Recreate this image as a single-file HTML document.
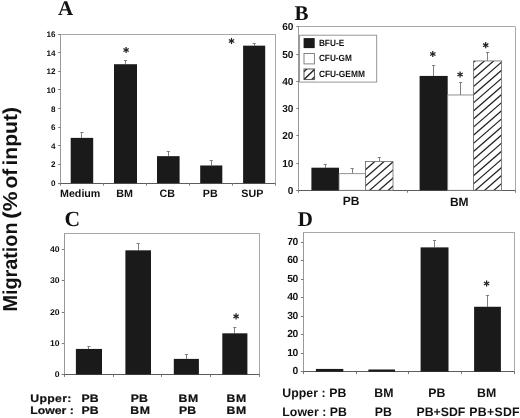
<!DOCTYPE html>
<html><head><meta charset="utf-8"><title>Figure</title>
<style>
html,body{margin:0;padding:0;background:#fff;}
body{width:520px;height:418px;overflow:hidden;font-family:"Liberation Sans",sans-serif;}
svg{display:block;will-change:transform;}
text{text-rendering:geometricPrecision;}
</style></head><body>
<svg width="520" height="418" viewBox="0 0 520 418">
<rect x="0" y="0" width="520" height="418" fill="#ffffff"/>
<line x1="60.50" y1="34.50" x2="275.20" y2="34.50" stroke="#a8a8a8" stroke-width="1"/>
<line x1="275.50" y1="34.00" x2="275.50" y2="183.20" stroke="#a8a8a8" stroke-width="1"/>
<line x1="60.50" y1="34.00" x2="60.50" y2="183.20" stroke="#999" stroke-width="1"/>
<line x1="58.20" y1="183.50" x2="275.20" y2="183.50" stroke="#5c5c5c" stroke-width="1.2"/>
<line x1="58.20" y1="183.50" x2="60.50" y2="183.50" stroke="#7a7a7a" stroke-width="1"/>
<text x="55.50" y="186.10" font-family="Liberation Sans, sans-serif" font-size="8.1" font-weight="bold" text-anchor="end" fill="#111">0</text>
<line x1="58.20" y1="164.50" x2="60.50" y2="164.50" stroke="#7a7a7a" stroke-width="1"/>
<text x="55.50" y="167.45" font-family="Liberation Sans, sans-serif" font-size="8.1" font-weight="bold" text-anchor="end" fill="#111">2</text>
<line x1="58.20" y1="145.50" x2="60.50" y2="145.50" stroke="#7a7a7a" stroke-width="1"/>
<text x="55.50" y="148.80" font-family="Liberation Sans, sans-serif" font-size="8.1" font-weight="bold" text-anchor="end" fill="#111">4</text>
<line x1="58.20" y1="127.50" x2="60.50" y2="127.50" stroke="#7a7a7a" stroke-width="1"/>
<text x="55.50" y="130.15" font-family="Liberation Sans, sans-serif" font-size="8.1" font-weight="bold" text-anchor="end" fill="#111">6</text>
<line x1="58.20" y1="108.50" x2="60.50" y2="108.50" stroke="#7a7a7a" stroke-width="1"/>
<text x="55.50" y="111.50" font-family="Liberation Sans, sans-serif" font-size="8.1" font-weight="bold" text-anchor="end" fill="#111">8</text>
<line x1="58.20" y1="89.50" x2="60.50" y2="89.50" stroke="#7a7a7a" stroke-width="1"/>
<text x="55.50" y="92.85" font-family="Liberation Sans, sans-serif" font-size="8.1" font-weight="bold" text-anchor="end" fill="#111">10</text>
<line x1="58.20" y1="71.50" x2="60.50" y2="71.50" stroke="#7a7a7a" stroke-width="1"/>
<text x="55.50" y="74.20" font-family="Liberation Sans, sans-serif" font-size="8.1" font-weight="bold" text-anchor="end" fill="#111">12</text>
<line x1="58.20" y1="52.50" x2="60.50" y2="52.50" stroke="#7a7a7a" stroke-width="1"/>
<text x="55.50" y="55.55" font-family="Liberation Sans, sans-serif" font-size="8.1" font-weight="bold" text-anchor="end" fill="#111">14</text>
<line x1="58.20" y1="34.50" x2="60.50" y2="34.50" stroke="#7a7a7a" stroke-width="1"/>
<text x="55.50" y="36.90" font-family="Liberation Sans, sans-serif" font-size="8.1" font-weight="bold" text-anchor="end" fill="#111">16</text>
<line x1="60.50" y1="183.20" x2="60.50" y2="185.60" stroke="#7a7a7a" stroke-width="1"/>
<line x1="103.50" y1="183.20" x2="103.50" y2="185.60" stroke="#7a7a7a" stroke-width="1"/>
<line x1="146.50" y1="183.20" x2="146.50" y2="185.60" stroke="#7a7a7a" stroke-width="1"/>
<line x1="189.50" y1="183.20" x2="189.50" y2="185.60" stroke="#7a7a7a" stroke-width="1"/>
<line x1="232.50" y1="183.20" x2="232.50" y2="185.60" stroke="#7a7a7a" stroke-width="1"/>
<line x1="275.50" y1="183.20" x2="275.50" y2="185.60" stroke="#7a7a7a" stroke-width="1"/>
<line x1="81.50" y1="132.38" x2="81.50" y2="137.88" stroke="#808080" stroke-width="1"/>
<line x1="80.35" y1="132.50" x2="83.55" y2="132.50" stroke="#808080" stroke-width="1"/>
<rect x="70.70" y="137.88" width="22.50" height="45.32" fill="#1a1a1a"/>
<line x1="125.50" y1="60.11" x2="125.50" y2="64.21" stroke="#808080" stroke-width="1"/>
<line x1="123.90" y1="60.50" x2="127.10" y2="60.50" stroke="#808080" stroke-width="1"/>
<rect x="114.00" y="64.21" width="23.00" height="118.99" fill="#1a1a1a"/>
<line x1="168.50" y1="151.68" x2="168.50" y2="156.16" stroke="#808080" stroke-width="1"/>
<line x1="166.70" y1="151.50" x2="169.90" y2="151.50" stroke="#808080" stroke-width="1"/>
<rect x="157.00" y="156.16" width="22.60" height="27.04" fill="#1a1a1a"/>
<line x1="211.50" y1="160.35" x2="211.50" y2="165.48" stroke="#808080" stroke-width="1"/>
<line x1="209.65" y1="160.50" x2="212.85" y2="160.50" stroke="#808080" stroke-width="1"/>
<rect x="200.20" y="165.48" width="22.10" height="17.72" fill="#1a1a1a"/>
<line x1="254.50" y1="43.14" x2="254.50" y2="45.66" stroke="#808080" stroke-width="1"/>
<line x1="252.55" y1="43.50" x2="255.75" y2="43.50" stroke="#808080" stroke-width="1"/>
<rect x="243.10" y="45.66" width="22.10" height="137.54" fill="#1a1a1a"/>
<text x="80.20" y="196.70" font-family="Liberation Sans, sans-serif" font-size="10.7" font-weight="bold" text-anchor="middle" fill="#111">Medium</text>
<text x="124.50" y="196.70" font-family="Liberation Sans, sans-serif" font-size="10.7" font-weight="bold" text-anchor="middle" fill="#111">BM</text>
<text x="167.30" y="196.70" font-family="Liberation Sans, sans-serif" font-size="10.7" font-weight="bold" text-anchor="middle" fill="#111">CB</text>
<text x="210.30" y="196.70" font-family="Liberation Sans, sans-serif" font-size="10.7" font-weight="bold" text-anchor="middle" fill="#111">PB</text>
<text x="252.30" y="196.70" font-family="Liberation Sans, sans-serif" font-size="10.7" font-weight="bold" text-anchor="middle" fill="#111">SUP</text>
<line x1="126.10" y1="46.90" x2="126.10" y2="53.10" stroke="#222" stroke-width="1.25"/>
<line x1="123.42" y1="48.45" x2="128.78" y2="51.55" stroke="#222" stroke-width="1.25"/>
<line x1="128.78" y1="48.45" x2="123.42" y2="51.55" stroke="#222" stroke-width="1.25"/>
<line x1="231.50" y1="37.90" x2="231.50" y2="44.10" stroke="#222" stroke-width="1.25"/>
<line x1="228.82" y1="39.45" x2="234.18" y2="42.55" stroke="#222" stroke-width="1.25"/>
<line x1="234.18" y1="39.45" x2="228.82" y2="42.55" stroke="#222" stroke-width="1.25"/>
<text x="65.50" y="15.20" font-family="Liberation Serif, serif" font-size="21" font-weight="bold" text-anchor="middle" fill="#111">A</text>
<line x1="298.90" y1="26.50" x2="515.40" y2="26.50" stroke="#a8a8a8" stroke-width="1"/>
<line x1="515.50" y1="26.90" x2="515.50" y2="190.30" stroke="#a8a8a8" stroke-width="1"/>
<line x1="298.50" y1="26.90" x2="298.50" y2="190.30" stroke="#999" stroke-width="1"/>
<line x1="296.60" y1="190.50" x2="515.40" y2="190.50" stroke="#5c5c5c" stroke-width="1.2"/>
<line x1="296.40" y1="190.50" x2="298.90" y2="190.50" stroke="#7a7a7a" stroke-width="1"/>
<text x="293.30" y="193.80" font-family="Liberation Sans, sans-serif" font-size="10.1" font-weight="bold" text-anchor="end" fill="#111" letter-spacing="-0.15">0</text>
<line x1="296.40" y1="163.50" x2="298.90" y2="163.50" stroke="#7a7a7a" stroke-width="1"/>
<text x="293.30" y="166.57" font-family="Liberation Sans, sans-serif" font-size="10.1" font-weight="bold" text-anchor="end" fill="#111" letter-spacing="-0.15">10</text>
<line x1="296.40" y1="135.50" x2="298.90" y2="135.50" stroke="#7a7a7a" stroke-width="1"/>
<text x="293.30" y="139.33" font-family="Liberation Sans, sans-serif" font-size="10.1" font-weight="bold" text-anchor="end" fill="#111" letter-spacing="-0.15">20</text>
<line x1="296.40" y1="108.50" x2="298.90" y2="108.50" stroke="#7a7a7a" stroke-width="1"/>
<text x="293.30" y="112.10" font-family="Liberation Sans, sans-serif" font-size="10.1" font-weight="bold" text-anchor="end" fill="#111" letter-spacing="-0.15">30</text>
<line x1="296.40" y1="81.50" x2="298.90" y2="81.50" stroke="#7a7a7a" stroke-width="1"/>
<text x="293.30" y="84.87" font-family="Liberation Sans, sans-serif" font-size="10.1" font-weight="bold" text-anchor="end" fill="#111" letter-spacing="-0.15">40</text>
<line x1="296.40" y1="54.50" x2="298.90" y2="54.50" stroke="#7a7a7a" stroke-width="1"/>
<text x="293.30" y="57.63" font-family="Liberation Sans, sans-serif" font-size="10.1" font-weight="bold" text-anchor="end" fill="#111" letter-spacing="-0.15">50</text>
<line x1="296.40" y1="26.50" x2="298.90" y2="26.50" stroke="#7a7a7a" stroke-width="1"/>
<text x="293.30" y="30.40" font-family="Liberation Sans, sans-serif" font-size="10.1" font-weight="bold" text-anchor="end" fill="#111" letter-spacing="-0.15">60</text>
<line x1="298.50" y1="190.30" x2="298.50" y2="192.70" stroke="#7a7a7a" stroke-width="1"/>
<line x1="407.50" y1="190.30" x2="407.50" y2="192.70" stroke="#7a7a7a" stroke-width="1"/>
<line x1="515.50" y1="190.30" x2="515.50" y2="192.70" stroke="#7a7a7a" stroke-width="1"/>
<line x1="325.50" y1="164.97" x2="325.50" y2="167.70" stroke="#808080" stroke-width="1"/>
<line x1="323.60" y1="164.50" x2="326.80" y2="164.50" stroke="#808080" stroke-width="1"/>
<rect x="311.40" y="167.70" width="27.60" height="22.60" fill="#1a1a1a"/>
<line x1="352.50" y1="168.24" x2="352.50" y2="173.69" stroke="#808080" stroke-width="1"/>
<line x1="350.60" y1="168.50" x2="353.80" y2="168.50" stroke="#808080" stroke-width="1"/>
<rect x="339.00" y="173.69" width="26.40" height="16.61" fill="#fff" stroke="#777" stroke-width="0.8"/>
<line x1="379.50" y1="157.62" x2="379.50" y2="161.43" stroke="#808080" stroke-width="1"/>
<line x1="377.60" y1="157.50" x2="380.80" y2="157.50" stroke="#808080" stroke-width="1"/>
<clipPath id="hc1"><rect x="365.40" y="161.43" width="27.60" height="28.87"/></clipPath>
<rect x="365.40" y="161.43" width="27.60" height="28.87" fill="#fff"/>
<g clip-path="url(#hc1)">
<line x1="364.40" y1="146.27" x2="394.00" y2="120.52" stroke="#222" stroke-width="1.25"/>
<line x1="364.40" y1="154.37" x2="394.00" y2="128.62" stroke="#222" stroke-width="1.25"/>
<line x1="364.40" y1="162.47" x2="394.00" y2="136.72" stroke="#222" stroke-width="1.25"/>
<line x1="364.40" y1="170.57" x2="394.00" y2="144.82" stroke="#222" stroke-width="1.25"/>
<line x1="364.40" y1="178.67" x2="394.00" y2="152.92" stroke="#222" stroke-width="1.25"/>
<line x1="364.40" y1="186.77" x2="394.00" y2="161.02" stroke="#222" stroke-width="1.25"/>
<line x1="364.40" y1="194.87" x2="394.00" y2="169.12" stroke="#222" stroke-width="1.25"/>
<line x1="364.40" y1="202.97" x2="394.00" y2="177.22" stroke="#222" stroke-width="1.25"/>
<line x1="364.40" y1="211.07" x2="394.00" y2="185.32" stroke="#222" stroke-width="1.25"/>
</g>
<rect x="365.40" y="161.43" width="27.60" height="28.87" fill="none" stroke="#6a6a6a" stroke-width="0.8"/>
<line x1="433.50" y1="65.03" x2="433.50" y2="75.92" stroke="#808080" stroke-width="1"/>
<line x1="432.05" y1="65.50" x2="435.25" y2="65.50" stroke="#808080" stroke-width="1"/>
<rect x="419.60" y="75.92" width="28.10" height="114.38" fill="#1a1a1a"/>
<line x1="460.50" y1="82.46" x2="460.50" y2="94.98" stroke="#808080" stroke-width="1"/>
<line x1="459.05" y1="82.50" x2="462.25" y2="82.50" stroke="#808080" stroke-width="1"/>
<rect x="447.70" y="94.98" width="25.90" height="95.32" fill="#fff" stroke="#777" stroke-width="0.8"/>
<line x1="487.50" y1="52.50" x2="487.50" y2="60.94" stroke="#808080" stroke-width="1"/>
<line x1="486.00" y1="52.50" x2="489.20" y2="52.50" stroke="#808080" stroke-width="1"/>
<clipPath id="hc2"><rect x="473.60" y="60.94" width="28.00" height="129.36"/></clipPath>
<rect x="473.60" y="60.94" width="28.00" height="129.36" fill="#fff"/>
<g clip-path="url(#hc2)">
<line x1="472.60" y1="46.87" x2="502.60" y2="20.77" stroke="#222" stroke-width="1.25"/>
<line x1="472.60" y1="54.97" x2="502.60" y2="28.87" stroke="#222" stroke-width="1.25"/>
<line x1="472.60" y1="63.07" x2="502.60" y2="36.97" stroke="#222" stroke-width="1.25"/>
<line x1="472.60" y1="71.17" x2="502.60" y2="45.07" stroke="#222" stroke-width="1.25"/>
<line x1="472.60" y1="79.27" x2="502.60" y2="53.17" stroke="#222" stroke-width="1.25"/>
<line x1="472.60" y1="87.37" x2="502.60" y2="61.27" stroke="#222" stroke-width="1.25"/>
<line x1="472.60" y1="95.47" x2="502.60" y2="69.37" stroke="#222" stroke-width="1.25"/>
<line x1="472.60" y1="103.57" x2="502.60" y2="77.47" stroke="#222" stroke-width="1.25"/>
<line x1="472.60" y1="111.67" x2="502.60" y2="85.57" stroke="#222" stroke-width="1.25"/>
<line x1="472.60" y1="119.77" x2="502.60" y2="93.67" stroke="#222" stroke-width="1.25"/>
<line x1="472.60" y1="127.87" x2="502.60" y2="101.77" stroke="#222" stroke-width="1.25"/>
<line x1="472.60" y1="135.97" x2="502.60" y2="109.87" stroke="#222" stroke-width="1.25"/>
<line x1="472.60" y1="144.07" x2="502.60" y2="117.97" stroke="#222" stroke-width="1.25"/>
<line x1="472.60" y1="152.17" x2="502.60" y2="126.07" stroke="#222" stroke-width="1.25"/>
<line x1="472.60" y1="160.27" x2="502.60" y2="134.17" stroke="#222" stroke-width="1.25"/>
<line x1="472.60" y1="168.37" x2="502.60" y2="142.27" stroke="#222" stroke-width="1.25"/>
<line x1="472.60" y1="176.47" x2="502.60" y2="150.37" stroke="#222" stroke-width="1.25"/>
<line x1="472.60" y1="184.57" x2="502.60" y2="158.47" stroke="#222" stroke-width="1.25"/>
<line x1="472.60" y1="192.67" x2="502.60" y2="166.57" stroke="#222" stroke-width="1.25"/>
<line x1="472.60" y1="200.77" x2="502.60" y2="174.67" stroke="#222" stroke-width="1.25"/>
<line x1="472.60" y1="208.87" x2="502.60" y2="182.77" stroke="#222" stroke-width="1.25"/>
<line x1="472.60" y1="216.97" x2="502.60" y2="190.87" stroke="#222" stroke-width="1.25"/>
</g>
<rect x="473.60" y="60.94" width="28.00" height="129.36" fill="none" stroke="#6a6a6a" stroke-width="0.8"/>
<text x="351.20" y="205.40" font-family="Liberation Sans, sans-serif" font-size="12" font-weight="bold" text-anchor="middle" fill="#111">PB</text>
<text x="459.30" y="205.70" font-family="Liberation Sans, sans-serif" font-size="12" font-weight="bold" text-anchor="middle" fill="#111">BM</text>
<line x1="432.80" y1="50.90" x2="432.80" y2="57.10" stroke="#222" stroke-width="1.25"/>
<line x1="430.12" y1="52.45" x2="435.48" y2="55.55" stroke="#222" stroke-width="1.25"/>
<line x1="435.48" y1="52.45" x2="430.12" y2="55.55" stroke="#222" stroke-width="1.25"/>
<line x1="460.10" y1="71.40" x2="460.10" y2="77.60" stroke="#222" stroke-width="1.25"/>
<line x1="457.42" y1="72.95" x2="462.78" y2="76.05" stroke="#222" stroke-width="1.25"/>
<line x1="462.78" y1="72.95" x2="457.42" y2="76.05" stroke="#222" stroke-width="1.25"/>
<line x1="485.70" y1="42.10" x2="485.70" y2="48.30" stroke="#222" stroke-width="1.25"/>
<line x1="483.02" y1="43.65" x2="488.38" y2="46.75" stroke="#222" stroke-width="1.25"/>
<line x1="488.38" y1="43.65" x2="483.02" y2="46.75" stroke="#222" stroke-width="1.25"/>
<rect x="299.60" y="35.20" width="77.10" height="46.90" fill="#fff" stroke="#8a8a8a" stroke-width="0.9"/>
<rect x="303.60" y="38.10" width="11.10" height="10.00" fill="#1a1a1a"/>
<rect x="304.00" y="53.50" width="10.40" height="10.40" fill="#fff" stroke="#777" stroke-width="0.9"/>
<clipPath id="lg"><rect x="304" y="69.0" width="10.4" height="10.6"/></clipPath>
<rect x="304.00" y="69.00" width="10.40" height="10.60" fill="#fff"/>
<g clip-path="url(#lg)">
<line x1="303.00" y1="80.40" x2="315.40" y2="68.60" stroke="#222" stroke-width="1.5"/>
<line x1="303.00" y1="72.60" x2="308.00" y2="68.00" stroke="#222" stroke-width="1.2"/>
<line x1="310.50" y1="80.60" x2="315.40" y2="76.00" stroke="#222" stroke-width="1.2"/>
</g>
<rect x="304.00" y="69.00" width="10.40" height="10.60" fill="none" stroke="#444" stroke-width="0.9"/>
<text x="318.9" y="45.8" font-family="Liberation Sans, sans-serif" font-size="9.1" font-weight="bold" fill="#111" textLength="25.3" lengthAdjust="spacingAndGlyphs">BFU-E</text>
<text x="318.9" y="61.1" font-family="Liberation Sans, sans-serif" font-size="9.1" font-weight="bold" fill="#111" textLength="33.0" lengthAdjust="spacingAndGlyphs">CFU-GM</text>
<text x="318.9" y="76.5" font-family="Liberation Sans, sans-serif" font-size="9.1" font-weight="bold" fill="#111" textLength="46.0" lengthAdjust="spacingAndGlyphs">CFU-GEMM</text>
<text x="301.60" y="19.70" font-family="Liberation Serif, serif" font-size="21" font-weight="bold" text-anchor="middle" fill="#111">B</text>
<line x1="64.10" y1="233.50" x2="259.80" y2="233.50" stroke="#a8a8a8" stroke-width="1"/>
<line x1="259.50" y1="233.40" x2="259.50" y2="374.50" stroke="#a8a8a8" stroke-width="1"/>
<line x1="64.50" y1="233.40" x2="64.50" y2="374.50" stroke="#999" stroke-width="1"/>
<line x1="61.80" y1="374.50" x2="259.80" y2="374.50" stroke="#5c5c5c" stroke-width="1.2"/>
<line x1="61.80" y1="374.50" x2="64.10" y2="374.50" stroke="#7a7a7a" stroke-width="1"/>
<text x="0.00" y="0.00" font-family="Liberation Sans, sans-serif" font-size="8.3" font-weight="bold" text-anchor="end" fill="#111" transform="translate(59.50,376.90) scale(1.04,1)">0</text>
<line x1="61.80" y1="343.50" x2="64.10" y2="343.50" stroke="#7a7a7a" stroke-width="1"/>
<text x="0.00" y="0.00" font-family="Liberation Sans, sans-serif" font-size="8.3" font-weight="bold" text-anchor="end" fill="#111" transform="translate(59.50,345.70) scale(1.04,1)">10</text>
<line x1="61.80" y1="312.50" x2="64.10" y2="312.50" stroke="#7a7a7a" stroke-width="1"/>
<text x="0.00" y="0.00" font-family="Liberation Sans, sans-serif" font-size="8.3" font-weight="bold" text-anchor="end" fill="#111" transform="translate(59.50,314.50) scale(1.04,1)">20</text>
<line x1="61.80" y1="280.50" x2="64.10" y2="280.50" stroke="#7a7a7a" stroke-width="1"/>
<text x="0.00" y="0.00" font-family="Liberation Sans, sans-serif" font-size="8.3" font-weight="bold" text-anchor="end" fill="#111" transform="translate(59.50,283.30) scale(1.04,1)">30</text>
<line x1="61.80" y1="249.50" x2="64.10" y2="249.50" stroke="#7a7a7a" stroke-width="1"/>
<text x="0.00" y="0.00" font-family="Liberation Sans, sans-serif" font-size="8.3" font-weight="bold" text-anchor="end" fill="#111" transform="translate(59.50,252.10) scale(1.04,1)">40</text>
<line x1="64.50" y1="374.50" x2="64.50" y2="376.90" stroke="#7a7a7a" stroke-width="1"/>
<line x1="113.50" y1="374.50" x2="113.50" y2="376.90" stroke="#7a7a7a" stroke-width="1"/>
<line x1="161.50" y1="374.50" x2="161.50" y2="376.90" stroke="#7a7a7a" stroke-width="1"/>
<line x1="210.50" y1="374.50" x2="210.50" y2="376.90" stroke="#7a7a7a" stroke-width="1"/>
<line x1="259.50" y1="374.50" x2="259.50" y2="376.90" stroke="#7a7a7a" stroke-width="1"/>
<line x1="88.50" y1="346.58" x2="88.50" y2="348.92" stroke="#808080" stroke-width="1"/>
<line x1="87.35" y1="346.50" x2="90.55" y2="346.50" stroke="#808080" stroke-width="1"/>
<rect x="75.90" y="348.92" width="26.10" height="25.58" fill="#1a1a1a"/>
<line x1="138.50" y1="243.77" x2="138.50" y2="250.32" stroke="#808080" stroke-width="1"/>
<line x1="136.60" y1="243.50" x2="139.80" y2="243.50" stroke="#808080" stroke-width="1"/>
<rect x="125.40" y="250.32" width="25.60" height="124.18" fill="#1a1a1a"/>
<line x1="186.50" y1="354.53" x2="186.50" y2="358.90" stroke="#808080" stroke-width="1"/>
<line x1="184.75" y1="354.50" x2="187.95" y2="354.50" stroke="#808080" stroke-width="1"/>
<rect x="173.80" y="358.90" width="25.10" height="15.60" fill="#1a1a1a"/>
<line x1="234.50" y1="327.08" x2="234.50" y2="333.32" stroke="#808080" stroke-width="1"/>
<line x1="233.25" y1="327.50" x2="236.45" y2="327.50" stroke="#808080" stroke-width="1"/>
<rect x="222.30" y="333.32" width="25.10" height="41.18" fill="#1a1a1a"/>
<line x1="236.10" y1="313.20" x2="236.10" y2="319.40" stroke="#222" stroke-width="1.25"/>
<line x1="233.42" y1="314.75" x2="238.78" y2="317.85" stroke="#222" stroke-width="1.25"/>
<line x1="238.78" y1="314.75" x2="233.42" y2="317.85" stroke="#222" stroke-width="1.25"/>
<text x="72.30" y="225.70" font-family="Liberation Serif, serif" font-size="21.6" font-weight="bold" text-anchor="middle" fill="#111">C</text>
<text x="0.00" y="0.00" font-family="Liberation Sans, sans-serif" font-size="10.8" font-weight="bold" text-anchor="start" fill="#111" letter-spacing="0.3" stroke="#111" stroke-width="0.2" transform="translate(30.20,401.60) scale(1.135,1)">Upper:</text>
<text x="0.00" y="0.00" font-family="Liberation Sans, sans-serif" font-size="10.8" font-weight="bold" text-anchor="start" fill="#111" letter-spacing="0.0" stroke="#111" stroke-width="0.2" transform="translate(30.20,413.90) scale(1.135,1)">Lower :</text>
<text x="0.00" y="0.00" font-family="Liberation Sans, sans-serif" font-size="10.8" font-weight="bold" text-anchor="middle" fill="#111" letter-spacing="0.1" stroke="#111" stroke-width="0.2" transform="translate(90.20,401.60) scale(1.135,1)">PB</text>
<text x="0.00" y="0.00" font-family="Liberation Sans, sans-serif" font-size="10.8" font-weight="bold" text-anchor="middle" fill="#111" letter-spacing="0.1" stroke="#111" stroke-width="0.2" transform="translate(90.20,413.90) scale(1.135,1)">PB</text>
<text x="0.00" y="0.00" font-family="Liberation Sans, sans-serif" font-size="10.8" font-weight="bold" text-anchor="middle" fill="#111" letter-spacing="0.1" stroke="#111" stroke-width="0.2" transform="translate(139.30,401.60) scale(1.135,1)">PB</text>
<text x="0.00" y="0.00" font-family="Liberation Sans, sans-serif" font-size="10.8" font-weight="bold" text-anchor="middle" fill="#111" letter-spacing="0.6" stroke="#111" stroke-width="0.2" transform="translate(140.50,413.90) scale(1.135,1)">BM</text>
<text x="0.00" y="0.00" font-family="Liberation Sans, sans-serif" font-size="10.8" font-weight="bold" text-anchor="middle" fill="#111" letter-spacing="0.6" stroke="#111" stroke-width="0.2" transform="translate(188.80,401.60) scale(1.135,1)">BM</text>
<text x="0.00" y="0.00" font-family="Liberation Sans, sans-serif" font-size="10.8" font-weight="bold" text-anchor="middle" fill="#111" letter-spacing="0.1" stroke="#111" stroke-width="0.2" transform="translate(187.60,413.90) scale(1.135,1)">PB</text>
<text x="0.00" y="0.00" font-family="Liberation Sans, sans-serif" font-size="10.8" font-weight="bold" text-anchor="middle" fill="#111" letter-spacing="0.6" stroke="#111" stroke-width="0.2" transform="translate(236.60,401.60) scale(1.135,1)">BM</text>
<text x="0.00" y="0.00" font-family="Liberation Sans, sans-serif" font-size="10.8" font-weight="bold" text-anchor="middle" fill="#111" letter-spacing="0.6" stroke="#111" stroke-width="0.2" transform="translate(236.60,413.90) scale(1.135,1)">BM</text>
<line x1="303.40" y1="232.50" x2="514.50" y2="232.50" stroke="#a8a8a8" stroke-width="1"/>
<line x1="514.50" y1="232.20" x2="514.50" y2="371.70" stroke="#a8a8a8" stroke-width="1"/>
<line x1="303.50" y1="232.20" x2="303.50" y2="371.70" stroke="#999" stroke-width="1"/>
<line x1="301.10" y1="371.50" x2="514.50" y2="371.50" stroke="#5c5c5c" stroke-width="1.2"/>
<line x1="300.90" y1="371.50" x2="303.40" y2="371.50" stroke="#7a7a7a" stroke-width="1"/>
<text x="297.80" y="374.30" font-family="Liberation Sans, sans-serif" font-size="10.3" font-weight="bold" text-anchor="end" fill="#111" letter-spacing="-0.5">0</text>
<line x1="300.90" y1="353.50" x2="303.40" y2="353.50" stroke="#7a7a7a" stroke-width="1"/>
<text x="297.80" y="355.80" font-family="Liberation Sans, sans-serif" font-size="10.3" font-weight="bold" text-anchor="end" fill="#111" letter-spacing="-0.5">10</text>
<line x1="300.90" y1="334.50" x2="303.40" y2="334.50" stroke="#7a7a7a" stroke-width="1"/>
<text x="297.80" y="337.30" font-family="Liberation Sans, sans-serif" font-size="10.3" font-weight="bold" text-anchor="end" fill="#111" letter-spacing="-0.5">20</text>
<line x1="300.90" y1="316.50" x2="303.40" y2="316.50" stroke="#7a7a7a" stroke-width="1"/>
<text x="297.80" y="318.80" font-family="Liberation Sans, sans-serif" font-size="10.3" font-weight="bold" text-anchor="end" fill="#111" letter-spacing="-0.5">30</text>
<line x1="300.90" y1="297.50" x2="303.40" y2="297.50" stroke="#7a7a7a" stroke-width="1"/>
<text x="297.80" y="300.30" font-family="Liberation Sans, sans-serif" font-size="10.3" font-weight="bold" text-anchor="end" fill="#111" letter-spacing="-0.5">40</text>
<line x1="300.90" y1="279.50" x2="303.40" y2="279.50" stroke="#7a7a7a" stroke-width="1"/>
<text x="297.80" y="281.80" font-family="Liberation Sans, sans-serif" font-size="10.3" font-weight="bold" text-anchor="end" fill="#111" letter-spacing="-0.5">50</text>
<line x1="300.90" y1="260.50" x2="303.40" y2="260.50" stroke="#7a7a7a" stroke-width="1"/>
<text x="297.80" y="263.30" font-family="Liberation Sans, sans-serif" font-size="10.3" font-weight="bold" text-anchor="end" fill="#111" letter-spacing="-0.5">60</text>
<line x1="300.90" y1="242.50" x2="303.40" y2="242.50" stroke="#7a7a7a" stroke-width="1"/>
<text x="297.80" y="244.80" font-family="Liberation Sans, sans-serif" font-size="10.3" font-weight="bold" text-anchor="end" fill="#111" letter-spacing="-0.5">70</text>
<line x1="303.50" y1="371.70" x2="303.50" y2="374.10" stroke="#7a7a7a" stroke-width="1"/>
<line x1="356.50" y1="371.70" x2="356.50" y2="374.10" stroke="#7a7a7a" stroke-width="1"/>
<line x1="408.50" y1="371.70" x2="408.50" y2="374.10" stroke="#7a7a7a" stroke-width="1"/>
<line x1="461.50" y1="371.70" x2="461.50" y2="374.10" stroke="#7a7a7a" stroke-width="1"/>
<line x1="514.50" y1="371.70" x2="514.50" y2="374.10" stroke="#7a7a7a" stroke-width="1"/>
<rect x="315.90" y="368.93" width="27.40" height="2.77" fill="#1a1a1a"/>
<rect x="368.40" y="369.48" width="26.60" height="2.22" fill="#1a1a1a"/>
<line x1="434.50" y1="240.35" x2="434.50" y2="247.38" stroke="#808080" stroke-width="1"/>
<line x1="432.95" y1="240.50" x2="436.15" y2="240.50" stroke="#808080" stroke-width="1"/>
<rect x="420.60" y="247.38" width="27.90" height="124.32" fill="#1a1a1a"/>
<line x1="487.50" y1="295.48" x2="487.50" y2="306.76" stroke="#808080" stroke-width="1"/>
<line x1="485.90" y1="295.50" x2="489.10" y2="295.50" stroke="#808080" stroke-width="1"/>
<rect x="474.10" y="306.76" width="26.80" height="64.94" fill="#1a1a1a"/>
<line x1="486.60" y1="280.40" x2="486.60" y2="286.60" stroke="#222" stroke-width="1.25"/>
<line x1="483.92" y1="281.95" x2="489.28" y2="285.05" stroke="#222" stroke-width="1.25"/>
<line x1="489.28" y1="281.95" x2="483.92" y2="285.05" stroke="#222" stroke-width="1.25"/>
<text x="305.40" y="225.90" font-family="Liberation Serif, serif" font-size="21" font-weight="bold" text-anchor="middle" fill="#111">D</text>
<text x="282.30" y="397.00" font-family="Liberation Sans, sans-serif" font-size="12.3" font-weight="bold" text-anchor="start" fill="#111" letter-spacing="0.05">Upper : PB</text>
<text x="282.30" y="416.40" font-family="Liberation Sans, sans-serif" font-size="12.3" font-weight="bold" text-anchor="start" fill="#111" letter-spacing="0.05">Lower : PB</text>
<text x="383.90" y="397.00" font-family="Liberation Sans, sans-serif" font-size="12.3" font-weight="bold" text-anchor="middle" fill="#111">BM</text>
<text x="383.40" y="416.40" font-family="Liberation Sans, sans-serif" font-size="12.3" font-weight="bold" text-anchor="middle" fill="#111">PB</text>
<text x="436.90" y="397.00" font-family="Liberation Sans, sans-serif" font-size="12.3" font-weight="bold" text-anchor="middle" fill="#111">PB</text>
<text x="440.90" y="416.40" font-family="Liberation Sans, sans-serif" font-size="12.3" font-weight="bold" text-anchor="middle" fill="#111">PB+SDF</text>
<text x="486.60" y="397.00" font-family="Liberation Sans, sans-serif" font-size="12.3" font-weight="bold" text-anchor="middle" fill="#111">BM</text>
<text x="494.60" y="416.40" font-family="Liberation Sans, sans-serif" font-size="12.3" font-weight="bold" text-anchor="middle" fill="#111" letter-spacing="0.3">PB+SDF</text>
<text transform="translate(17.0,311.6) rotate(-90)" font-family="Liberation Sans, sans-serif" font-size="20.2" font-weight="bold" fill="#111" textLength="89.1" lengthAdjust="spacingAndGlyphs">Migration</text>
<text transform="translate(17.0,218.7) rotate(-90)" font-family="Liberation Sans, sans-serif" font-size="20.2" font-weight="bold" fill="#111" textLength="27.2" lengthAdjust="spacingAndGlyphs">(%</text>
<text transform="translate(17.0,188.6) rotate(-90)" font-family="Liberation Sans, sans-serif" font-size="20.2" font-weight="bold" fill="#111" textLength="19.8" lengthAdjust="spacingAndGlyphs">of</text>
<text transform="translate(17.0,165.6) rotate(-90)" font-family="Liberation Sans, sans-serif" font-size="20.2" font-weight="bold" fill="#111" textLength="58.7" lengthAdjust="spacingAndGlyphs">input)</text>
</svg>
</body></html>
